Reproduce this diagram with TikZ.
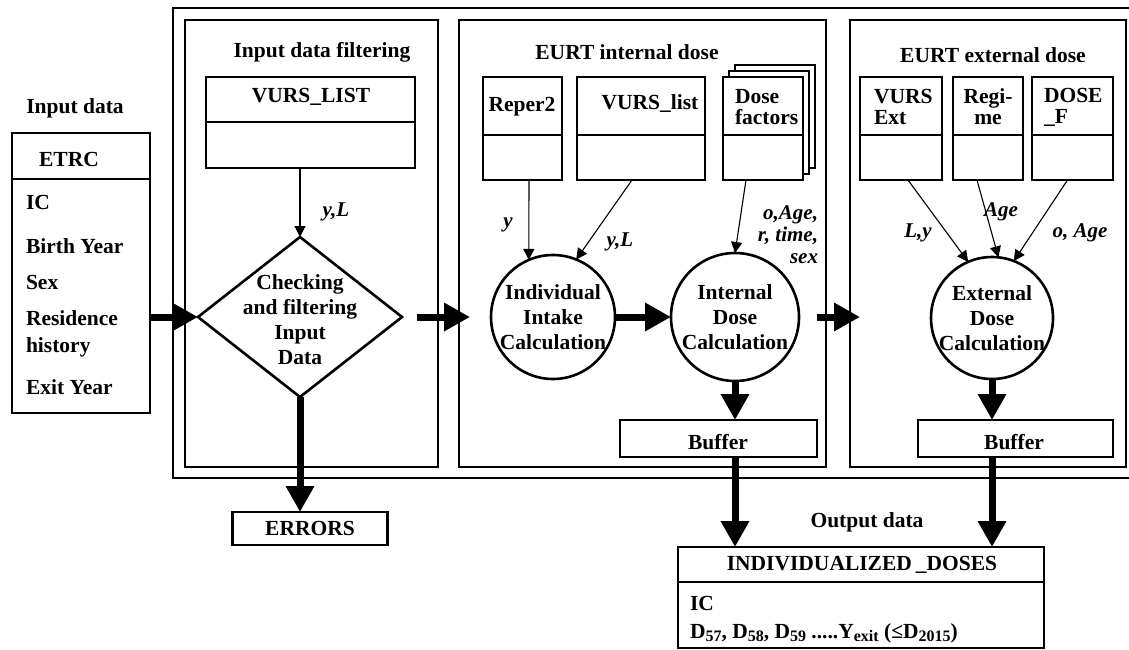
\documentclass[tikz,border=0pt]{standalone}
\usepackage{fontspec}
\setmainfont{Liberation Serif}
\usetikzlibrary{arrows.meta,shapes.geometric}
\newcommand\tablebox[6]{%
  \node[tblbox, minimum width={#4-#2}, minimum height={#5-#3}] (#1) at (#2,#3) {};
  \draw[line width=2.8pt] (#2,#6) -- (#4,#6);}
\newcommand\lowsub[1]{\raisebox{-0.32ex}{\fontsize{16}{16}\selectfont #1}}
\begin{document}
\begin{tikzpicture}[x=1pt,y=-1pt,
  every node/.style={font=\fontsize{21.5}{23}\selectfont\bfseries, inner sep=0pt, outer sep=0pt},
  lbl/.style={font=\fontsize{21}{22}\selectfont\bfseries\itshape},
  frame/.style={draw, line width=2.7pt, anchor=north west},
  tblbox/.style={draw, line width=2.8pt, fill=white, anchor=north west},
  proc/.style={draw, circle, line width=2.6pt},
  thinarrow/.style={line width=1.1pt, -{Triangle[length=11pt,width=11pt]}},
  thickarrow/.style={line width=7pt, -{Triangle[length=26pt,width=27pt]}},
  ctext/.style={align=center, font=\fontsize{21.5}{25}\selectfont\bfseries}
]
\useasboundingbox (0,0) rectangle (1129,650);

% outer frame
\draw[line width=2.7pt] (1132,8) -- (173,8) -- (173,478) -- (1132,478);

% input data
\node at (75,108) {Input data};
\tablebox{etrc}{12}{133}{150}{413}{179}
\node at (69,159) {ETRC};
\node[anchor=west] at (26,202) {IC};
\node[anchor=west] at (26,246) {Birth Year};
\node[anchor=west] at (26,282) {Sex};
\node[anchor=west, align=left, font=\fontsize{21.5}{27}\selectfont\bfseries] at (26,334) {Residence\\history};
\node[anchor=west] at (26,387) {Exit Year};

% input data filtering
\node[frame, minimum width=253, minimum height=447] (filt) at (185,20) {};
\node at (322,52) {Input data filtering};
\tablebox{vursL}{206}{77}{415}{168}{122}
\node at (311,97) {VURS\_LIST};
\node[draw, diamond, line width=2.6pt, minimum width=204pt, minimum height=160pt] (chk) at (300,317) {};
\node[ctext] at (300,320) {Checking\\and filtering\\Input\\Data};
\draw[thinarrow] (vursL.south -| chk.north) -- (chk.north);
\node[lbl] at (336,212) {y,L};
\draw[thickarrow] (etrc.east |- chk.west) -- (chk.west);

% errors
\node[draw, line width=2.8pt, minimum width=155pt, minimum height=33pt] (errors) at (310,528.5) {ERRORS};
\draw[thickarrow] (chk.south) -- (chk.south |- errors.north);

% internal dose
\node[frame, minimum width=367, minimum height=447] (intbox) at (459,20) {};
\node at (627,52) {EURT internal dose};
\tablebox{reper}{483}{77}{562}{180}{135}
\node at (522,107) {Reper2};
\tablebox{vursl}{577}{77}{705}{180}{135}
\node at (650,104) {VURS\_list};
\draw[line width=1.2pt, fill=white] (735,65) rectangle (815,168);
\draw[line width=1.2pt, fill=white] (729,71) rectangle (809,174);
\tablebox{dosefac}{723}{77}{803}{180}{135}
\node[anchor=west, align=left, font=\fontsize{21.5}{21}\selectfont\bfseries] at (735,107) {Dose\\factors};

\node[proc, minimum size=124pt] (intake) at (553,317) {};
\node[ctext] at (553,317) {Individual\\Intake\\Calculation};
\node[proc, minimum size=128pt] (intdose) at (735,317) {};
\node[ctext] at (735,317) {Internal\\Dose\\Calculation};

\draw[thinarrow] ([xshift=6.5pt]reper.south) -- (intake.113);
\node[lbl] at (508,225) {y};
\draw[thinarrow] ([xshift=-9pt]vursl.south) -- (intake.68);
\node[lbl] at (620,242) {y,L};
\draw[thinarrow] ([xshift=-17pt]dosefac.south) -- (intdose.90);
\node[lbl, anchor=east, align=right] at (818,235) {o,Age,\\r, time,\\sex};

\draw[thickarrow] (intake.east) -- (intdose.west);
\draw[thickarrow, shorten <=15pt] (chk.east) -- ([xshift=11pt]intbox.west |- chk.east);

\node[draw, line width=2.8pt, minimum width=197pt, minimum height=37pt] (buf1) at (718.5,438.5) {};
\node at (718,442) {Buffer};
\draw[thickarrow] (intdose.south) -- (intdose.south |- buf1.north);

% external dose
\node[frame, minimum width=276, minimum height=447] (extbox) at (850,20) {};
\node at (993,55) {EURT external dose};
\tablebox{vext}{860}{77}{942}{180}{135}
\node[anchor=west, align=left, font=\fontsize{21.5}{21}\selectfont\bfseries] at (874,107) {VURS\\Ext};
\tablebox{regime}{953}{77}{1023}{180}{135}
\node[align=center, font=\fontsize{21.5}{21}\selectfont\bfseries] at (988,107) {Regi-\\me};
\tablebox{dosef}{1032}{77}{1113}{180}{135}
\node[anchor=west, align=left, font=\fontsize{21.5}{21}\selectfont\bfseries] at (1044,107) {DOSE\\\_F};

\node[proc, minimum size=122pt] (extdose) at (992,318) {};
\node[ctext] at (992,318) {External\\Dose\\Calculation};
\draw[thinarrow] ([xshift=7pt]vext.south) -- (extdose.113);
\node[lbl] at (918,233) {L,y};
\draw[thinarrow] ([xshift=-11pt]regime.south) -- (extdose.84);
\node[lbl] at (1001,212) {Age};
\draw[thinarrow] ([xshift=-5pt]dosef.south) -- (extdose.69);
\node[lbl] at (1080,233) {o, Age};

\draw[thickarrow, shorten <=18pt] (intdose.east) -- ([xshift=10pt]extbox.west |- intdose.east);

\node[draw, line width=2.8pt, minimum width=195pt, minimum height=37pt] (buf2) at (1015.5,438.5) {};
\node at (1014,442) {Buffer};
\draw[thickarrow] (extdose.south) -- (extdose.south |- buf2.north);

% output data
\node at (867,522) {Output data};
\tablebox{out}{678}{547}{1044}{648}{582}
\node at (862,565) {INDIVIDUALIZED\hspace{4pt}\_DOSES};
\node[anchor=west] at (690,603) {IC};
\node[anchor=west] at (690,633) {D\lowsub{57}, D\lowsub{58}, D\lowsub{59} .....Y\lowsub{exit} (≤D\lowsub{2015})};
\draw[thickarrow] (intdose.south |- buf1.south) -- (intdose.south |- out.north);
\draw[thickarrow] (extdose.south |- buf2.south) -- (extdose.south |- out.north);
\end{tikzpicture}
\end{document}
